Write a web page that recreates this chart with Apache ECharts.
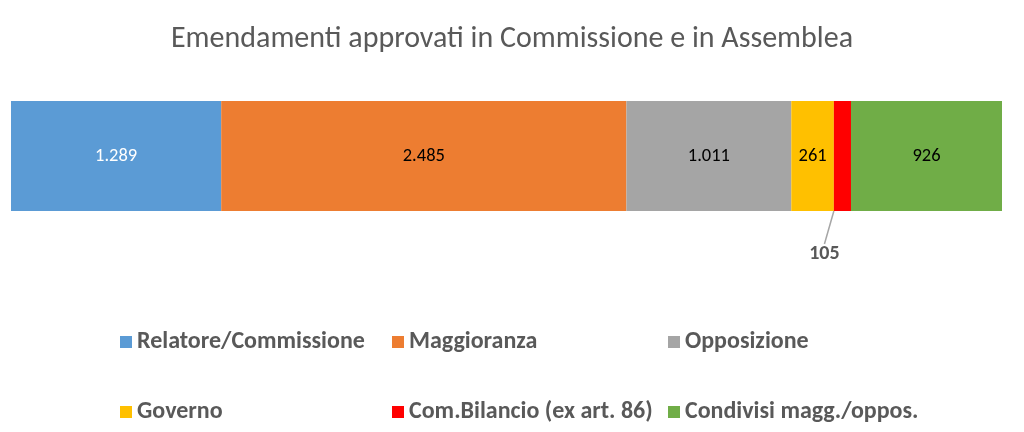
<!DOCTYPE html>
<html><head><meta charset="utf-8">
<script src="https://cdn.jsdelivr.net/npm/echarts@6/dist/echarts.min.js"></script>
<style>html,body{margin:0;padding:0;background:#fff}#c{width:1024px;height:432px}</style>
</head><body><div id="c"></div>
<script>
var categories = ['Emendamenti'];
var seriesNames = ['Relatore/Commissione','Maggioranza','Opposizione','Governo','Com.Bilancio (ex art. 86)','Condivisi magg./oppos.'];
var seriesValues = [1289, 2485, 1011, 261, 105, 926];
var colors = ['#5B9BD5','#ED7D31','#A5A5A5','#FFC000','#FF0000','#70AD47'];
var labelColors = ['#ffffff','#000000','#000000','#000000','#404040','#000000'];
var legendPos = [[120,330],[392,330],[668,330],[120,400],[392,400],[668,400]];

var total = seriesValues.reduce(function(a,b){return a+b;},0);
function fmt(v){return String(v).replace(/\B(?=(\d{3})+(?!\d))/g,'.');}
var FONT = "Carlito, 'Open Sans', sans-serif";

var series = seriesNames.map(function(n,i){
  var s = {
    name:n, type:'bar', stack:'t', barWidth:'100%',
    data:[seriesValues[i]],
    itemStyle:{color:colors[i]},
    label:{show:true, position:'inside', color:labelColors[i], fontSize:18.5, fontFamily:FONT,
      formatter:function(p){return fmt(p.value);}}
  };
  if(i===4){
    s.label.position='bottom';
    s.label.fontWeight='bold';
    s.label.fontSize=20;
    s.label.color='#595959';
    s.labelLayout={dx:-18, dy:28};
    s.labelLine={show:true, lineStyle:{color:'#A6A6A6', width:1.5}};
  }
  return s;
});

var legends = seriesNames.map(function(n,i){
  return {data:[n], left:legendPos[i][0], top:legendPos[i][1], itemWidth:12, itemHeight:12, itemGap:0,
    icon:'rect', selectedMode:false, padding:0,
    textStyle:{color:'#595959', fontSize:24, fontWeight:'bold', fontFamily:FONT}};
});

var chart = echarts.init(document.getElementById('c'));
chart.setOption({
  animation:false,
  title:{text:'Emendamenti approvati in Commissione e in Assemblea', left:'center', top:19,
    textStyle:{color:'#595959', fontSize:30, fontWeight:'normal', fontFamily:FONT}},
  legend:legends,
  grid:{left:11, right:22, top:101, height:110, containLabel:false},
  xAxis:{type:'value', min:0, max:total, show:false},
  yAxis:{type:'category', data:categories, show:false},
  series:series
});
</script></body></html>
